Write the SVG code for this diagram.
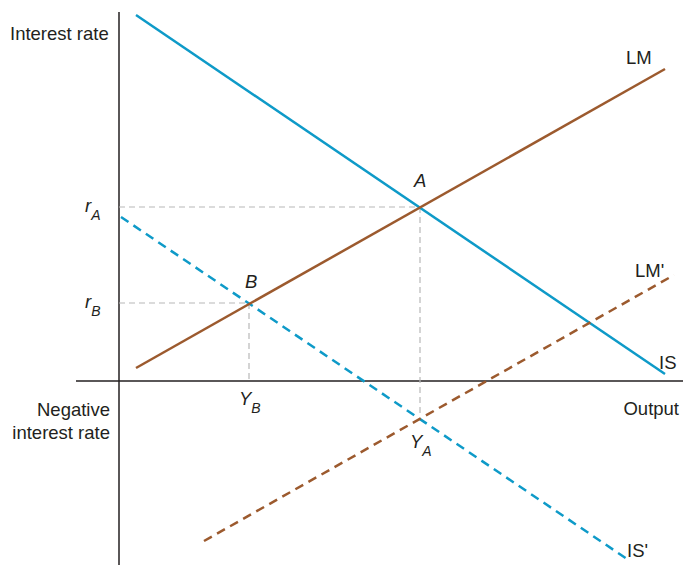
<svg xmlns="http://www.w3.org/2000/svg" width="683" height="565" viewBox="0 0 683 565">
<style>
text{font-family:"Liberation Sans",Arial,sans-serif;font-size:18.5px;fill:#231f20}
.it{font-style:italic}
.sub{font-size:14px;font-style:italic}
.axis{stroke:#231f20;stroke-width:1.5;fill:none}
.guide{stroke:#b8b8b8;stroke-width:1.2;stroke-dasharray:6 4;fill:none}
.is{stroke:#0e9ac8;stroke-width:2.5;fill:none}
.lm{stroke:#9c5a2e;stroke-width:2.5;fill:none}
.dash{stroke-dasharray:9 6}
</style>
<rect width="683" height="565" fill="#fff"/>
<g id="axes">
<line class="axis" x1="119" y1="12" x2="119" y2="565"/>
<line class="axis" x1="76" y1="381" x2="683" y2="381"/>
</g>
<g id="connectors">
<line class="guide" x1="119" y1="207" x2="420" y2="207"/>
<line class="guide" x1="420" y1="207" x2="420" y2="417"/>
<line class="guide" x1="119" y1="303" x2="249" y2="303"/>
<line class="guide" x1="249" y1="303" x2="249" y2="381"/>
</g>
<g id="IS"><line class="is" x1="136" y1="15" x2="665" y2="374"/><text x="659" y="369">IS</text></g>
<g id="ISprime"><line class="is dash" x1="121" y1="217" x2="627" y2="559"/><text x="627" y="557">IS'</text></g>
<g id="LM"><line class="lm" x1="136" y1="368" x2="665" y2="69"/><text x="626" y="64">LM</text></g>
<g id="LMprime"><line class="lm dash" x1="204" y1="541" x2="674" y2="275"/><text x="635" y="277">LM'</text></g>
<g id="labels">
<text x="10" y="40">Interest rate</text>
<text x="679" y="415" text-anchor="end">Output</text>
<text x="110" y="416" text-anchor="end">Negative</text>
<text x="110" y="439" text-anchor="end">interest rate</text>
<text class="it" x="414" y="187">A</text>
<text class="it" x="245" y="288">B</text>
<text class="it" x="85" y="212">r<tspan class="sub" dy="8">A</tspan></text>
<text class="it" x="85" y="308">r<tspan class="sub" dy="8">B</tspan></text>
<text class="it" x="239" y="405">Y<tspan class="sub" dy="8">B</tspan></text>
<text class="it" x="410" y="448">Y<tspan class="sub" dy="8">A</tspan></text>
</g>
</svg>
